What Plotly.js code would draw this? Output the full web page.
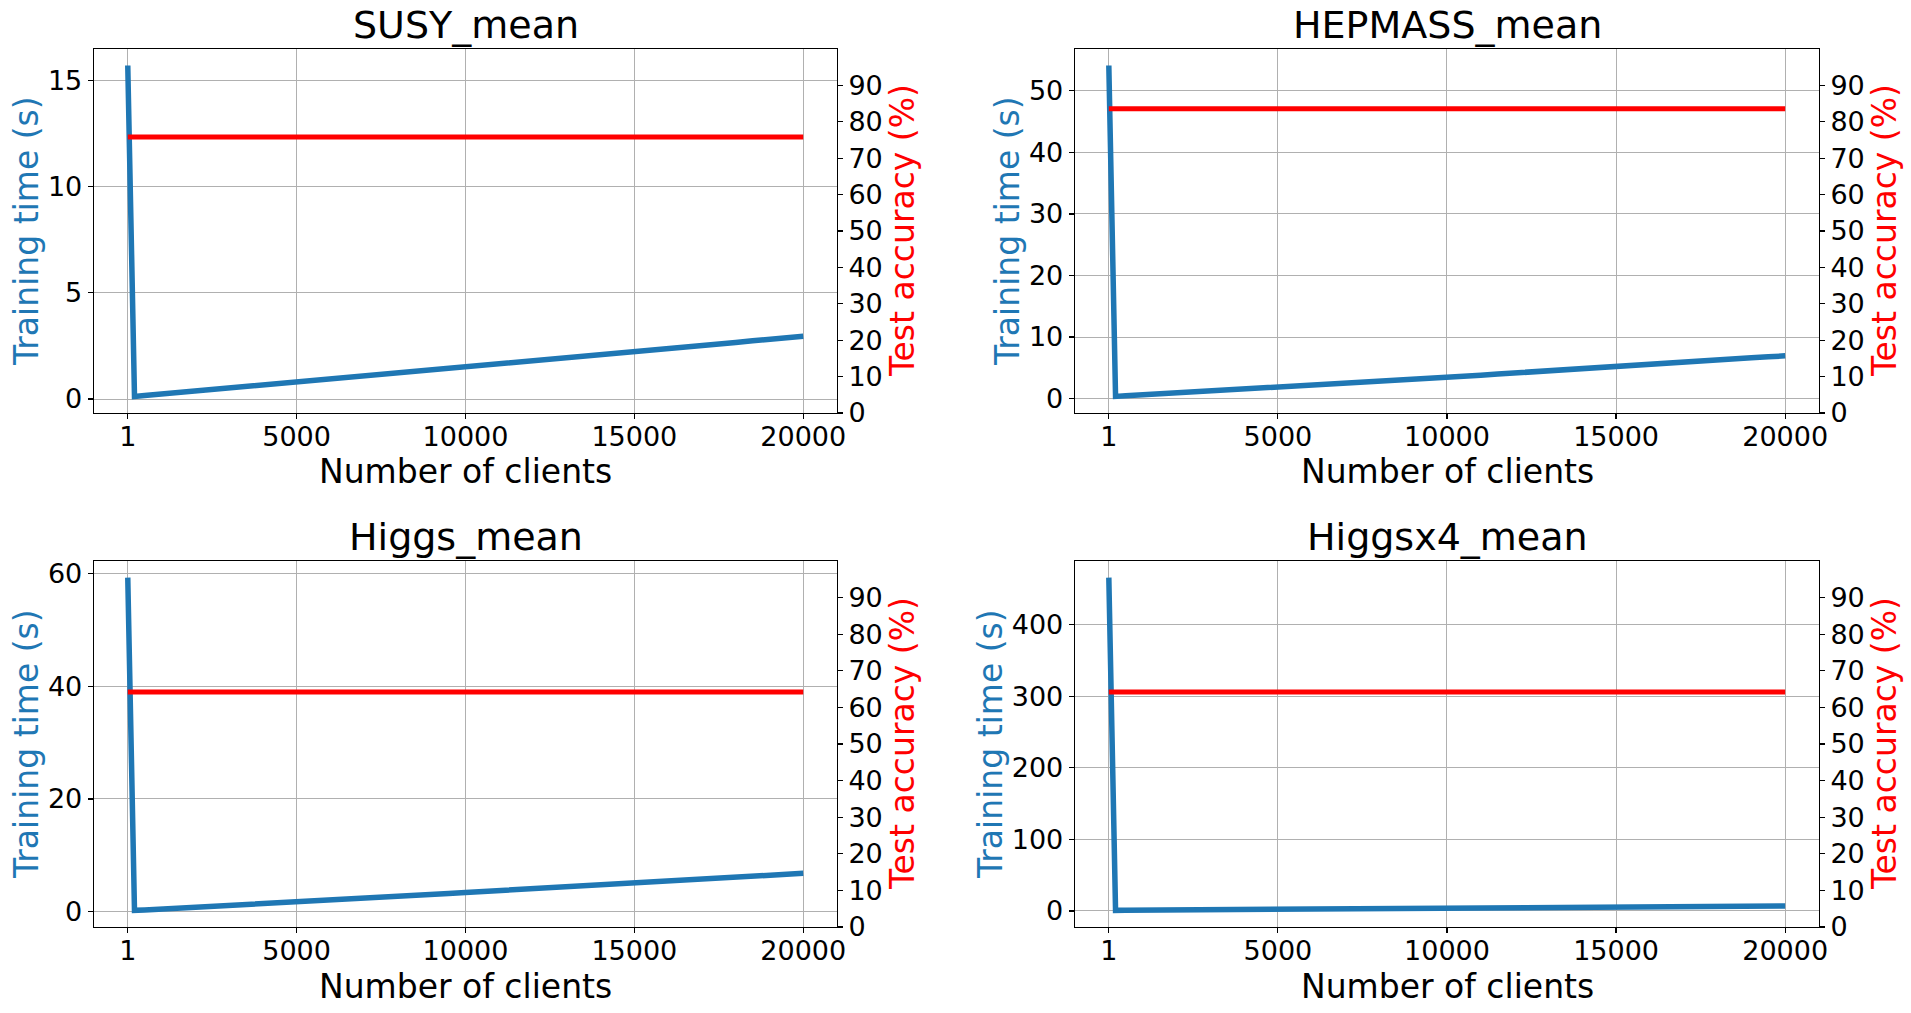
<!DOCTYPE html>
<html>
<head>
<meta charset="utf-8">
<script src="https://cdn.plot.ly/plotly-3.0.1.min.js"></script>
<style>html,body{margin:0;padding:0;background:#fff;}#chart{width:1911px;height:1013px;}</style>
</head>
<body>
<div id="chart"></div>
<script>
// ---------------- DATA ----------------
const clients = [1, 200, 500, 1000, 1500, 2000, 2500, 3000, 3500, 4000, 4500, 5000, 5500, 6000, 6500, 7000, 7500, 8000, 8500, 9000, 9500, 10000, 10500, 11000, 11500, 12000, 12500, 13000, 13500, 14000, 14500, 15000, 15500, 16000, 16500, 17000, 17500, 18000, 18500, 19000, 19500, 20000];

const susyTime = [15.7, 0.12, 0.16, 0.23, 0.30, 0.37, 0.45, 0.52, 0.58, 0.66, 0.73, 0.81, 0.87, 0.95, 1.02, 1.08, 1.16, 1.23, 1.30, 1.38, 1.44, 1.52, 1.59, 1.66, 1.73, 1.80, 1.88, 1.95, 2.01, 2.09, 2.16, 2.23, 2.31, 2.37, 2.45, 2.52, 2.58, 2.66, 2.74, 2.80, 2.88, 2.95];
const hepmassTime = [54.1, 0.35, 0.45, 0.60, 0.76, 0.91, 1.07, 1.21, 1.38, 1.52, 1.68, 1.83, 1.99, 2.14, 2.31, 2.47, 2.62, 2.80, 2.95, 3.12, 3.27, 3.44, 3.62, 3.80, 3.99, 4.18, 4.35, 4.55, 4.73, 4.92, 5.11, 5.30, 5.45, 5.63, 5.79, 5.95, 6.12, 6.29, 6.44, 6.62, 6.78, 6.95];
const higgsTime = [59.3, 0.22, 0.30, 0.45, 0.60, 0.74, 0.89, 1.04, 1.19, 1.34, 1.50, 1.65, 1.82, 2.00, 2.17, 2.35, 2.52, 2.70, 2.87, 3.05, 3.22, 3.40, 3.56, 3.72, 3.88, 4.04, 4.20, 4.36, 4.52, 4.68, 4.84, 5.00, 5.18, 5.36, 5.54, 5.72, 5.90, 6.08, 6.26, 6.44, 6.62, 6.80];
const higgsx4Time = [465.5, 0.8, 0.9, 1.1, 1.3, 1.4, 1.6, 1.7, 1.9, 2.0, 2.2, 2.4, 2.5, 2.7, 2.8, 3.0, 3.1, 3.3, 3.4, 3.6, 3.7, 3.9, 4.1, 4.2, 4.4, 4.5, 4.7, 4.8, 5.0, 5.1, 5.3, 5.4, 5.6, 5.8, 5.9, 6.1, 6.2, 6.4, 6.5, 6.7, 6.8, 7.0];

const accClients = [1, 20000];
const susyAcc = [75.8, 75.8];
const hepmassAcc = [83.6, 83.6];
const higgsAcc = [64.2, 64.2];
const higgsx4Acc = [64.2, 64.2];

const panelTitles = ["SUSY_mean", "HEPMASS_mean", "Higgs_mean", "Higgsx4_mean"];
const leftDticks = [5, 10, 20, 100];
const xTickVals = [1, 5000, 10000, 15000, 20000];
const xTickText = ["1", "5000", "10000", "15000", "20000"];
const accTickVals = [0, 10, 20, 30, 40, 50, 60, 70, 80, 90];
const xLabel = "Number of clients";
const leftLabel = "Training time (s)";
const rightLabel = "Test accuracy (%)";

// ---------------- LAYOUT ----------------
const W = 1911, H = 1013;
const FONT = "DejaVu Sans";
const BLUE = "#1f77b4", RED = "#ff0000";
const cols = [[94, 837], [1075, 1819]];
const rows = [[49, 413], [561, 927]];
const px = v => v / W;
const py = v => 1 - v / H;

const times = [susyTime, hepmassTime, higgsTime, higgsx4Time];
const accs = [susyAcc, hepmassAcc, higgsAcc, higgsx4Acc];
const leftLabelX = [26, 1007, 26, 990];

const traces = [];
const layout = {
  width: W, height: H,
  margin: {l: 0, r: 0, t: 0, b: 0},
  paper_bgcolor: "#fff", plot_bgcolor: "#fff",
  showlegend: false,
  font: {family: FONT, color: "#000"},
  annotations: []
};

const xr = [1 - 0.05 * 19999, 20000 + 0.05 * 19999];

for (let i = 0; i < 4; i++) {
  const c = cols[i % 2], r = rows[Math.floor(i / 2)];
  const xn = i + 1, yl = 2 * i + 1, yr = 2 * i + 2;
  const xk = xn === 1 ? "xaxis" : "xaxis" + xn;
  const ylk = yl === 1 ? "yaxis" : "yaxis" + yl;
  const yrk = "yaxis" + yr;
  const xid = xn === 1 ? "x" : "x" + xn;
  const ylid = yl === 1 ? "y" : "y" + yl;
  const yrid = "y" + yr;

  const t = times[i];
  const mn = Math.min(...t), mx = Math.max(...t), sp = mx - mn;

  traces.push({x: clients, y: t, xaxis: xid, yaxis: ylid, type: "scatter", mode: "lines",
    line: {color: BLUE, width: 5.5}, hoverinfo: "skip"});
  traces.push({x: accClients, y: accs[i], xaxis: xid, yaxis: yrid, type: "scatter", mode: "lines",
    line: {color: RED, width: 5}, hoverinfo: "skip"});

  layout[xk] = {
    domain: [px(c[0]), px(c[1])], anchor: ylid, range: xr,
    tickmode: "array", tickvals: xTickVals, ticktext: xTickText,
    ticks: "outside", ticklen: 5, tickwidth: 1.2, tickcolor: "#000",
    ticklabelstandoff: -6,
    tickfont: {family: FONT, size: 27, color: "#000"},
    showline: true, linecolor: "#000", linewidth: 1.3, mirror: true,
    showgrid: true, gridcolor: "#b0b0b0", gridwidth: 1,
    zeroline: false, fixedrange: true
  };
  layout[ylk] = {
    domain: [py(r[1]), py(r[0])], anchor: xid,
    range: [mn - 0.05 * sp, mx + 0.05 * sp],
    tickmode: "linear", tick0: 0, dtick: leftDticks[i],
    ticks: "outside", ticklen: 5, tickwidth: 1.2, tickcolor: "#000",
    tickfont: {family: FONT, size: 27, color: "#000"},
    showline: true, linecolor: "#000", linewidth: 1.3, mirror: true,
    showgrid: true, gridcolor: "#b0b0b0", gridwidth: 1,
    zeroline: false, fixedrange: true
  };
  layout[yrk] = {
    overlaying: ylid, side: "right", anchor: xid,
    range: [0, 100],
    tickmode: "array", tickvals: accTickVals,
    ticks: "outside", ticklen: 5, tickwidth: 1.2, tickcolor: "#000",
    tickfont: {family: FONT, size: 27, color: "#000"},
    showline: false, showgrid: false, zeroline: false, fixedrange: true
  };

  const cx = (c[0] + c[1]) / 2;
  layout.annotations.push({text: panelTitles[i], xref: "paper", yref: "paper",
    x: px(cx), y: py(r[0] - 24), xanchor: "center", yanchor: "middle", showarrow: false,
    font: {family: FONT, size: 38, color: "#000"}});
  layout.annotations.push({text: xLabel, xref: "paper", yref: "paper",
    x: px(cx), y: py(r[1] + 59), xanchor: "center", yanchor: "middle", showarrow: false,
    font: {family: FONT, size: 33, color: "#000"}});
  layout.annotations.push({text: leftLabel, xref: "paper", yref: "paper",
    x: px(leftLabelX[i]), y: py((r[0] + r[1]) / 2), xanchor: "center", yanchor: "middle",
    textangle: -90, showarrow: false, font: {family: FONT, size: 33, color: BLUE}});
  layout.annotations.push({text: rightLabel, xref: "paper", yref: "paper",
    x: px(c[1] + 65), y: py((r[0] + r[1]) / 2), xanchor: "center", yanchor: "middle",
    textangle: -90, showarrow: false, font: {family: FONT, size: 33, color: RED}});
}

Plotly.newPlot("chart", traces, layout, {staticPlot: true, displayModeBar: false});
</script>
</body>
</html>
